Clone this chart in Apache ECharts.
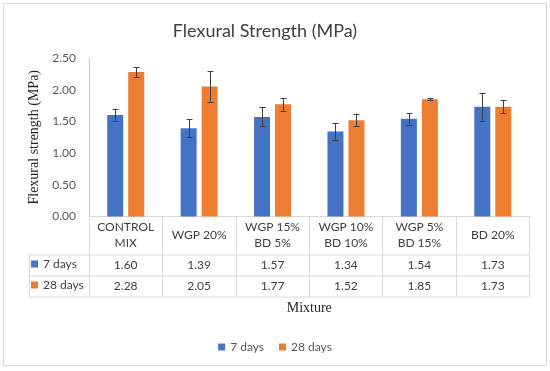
<!DOCTYPE html>
<html>
<head>
<meta charset="utf-8">
<script src="https://cdn.jsdelivr.net/npm/echarts@6/dist/echarts.min.js"></script>
<style>html,body{margin:0;padding:0;background:#fff;}#c{width:550px;height:371px;}</style>
</head>
<body>
<div id="c"></div>
<script>
const categories = ['CONTROL\nMIX', 'WGP 20%', 'WGP 15%\nBD 5%', 'WGP 10%\nBD 10%', 'WGP 5%\nBD 15%', 'BD 20%'];
const days7 = [1.60, 1.39, 1.57, 1.34, 1.54, 1.73];
const days28 = [2.28, 2.05, 1.77, 1.52, 1.85, 1.73];
const err7 = [0.10, 0.14, 0.15, 0.13, 0.09, 0.22];
const err28 = [0.08, 0.24, 0.10, 0.10, 0.02, 0.10];
const yMin = 0, yMax = 2.5, yStep = 0.5;
const seriesNames = ['7 days', '28 days'];

const FONT = 'Lato';
const BLUE = '#4472c4', ORANGE = '#ed7d31';
const GRID = {left: 89, right: 20.5, top: 58, bottom: 154.5};
const W = 550, H = 371;
const y0 = H - GRID.bottom, xL = GRID.left, xR = W - GRID.right;
const rowH = [38, 21, 21];
const tableLeft = 29;
const BAR_W = 16, BAR_GAP = 5;

function errSeries(name, vals, errs, dir) {
  return {
    type: 'custom', name: name + ' err', xAxisIndex: 0, yAxisIndex: 0, z: 5,
    encode: {x: 0, y: 1},
    data: vals.map((v, i) => [i, v, errs[i]]),
    renderItem: function (params, api) {
      const i = api.value(0), v = api.value(1), e = api.value(2);
      const c = api.coord([i, v]);
      const hi = api.coord([i, v + e]);
      const lo = api.coord([i, v - e]);
      const x = Math.round(c[0] + dir * (BAR_W + BAR_GAP) / 2) + 0.5;
      const st = {stroke: '#404040', lineWidth: 1, fill: null};
      return {type: 'group', children: [
        {type: 'line', shape: {x1: x, y1: hi[1], x2: x, y2: lo[1]}, style: st},
        {type: 'line', shape: {x1: x - 3, y1: Math.round(hi[1]) + 0.5, x2: x + 3, y2: Math.round(hi[1]) + 0.5}, style: st},
        {type: 'line', shape: {x1: x - 3, y1: Math.round(lo[1]) + 0.5, x2: x + 3, y2: Math.round(lo[1]) + 0.5}, style: st}
      ]};
    }
  };
}

const r1 = y0 + rowH[0], r2 = r1 + rowH[1], r3 = r2 + rowH[2];
const lineSt = {stroke: '#d9d9d9', lineWidth: 1};
const graphics = [
  {type: 'rect', shape: {x: 3.5, y: 3.5, width: 543, height: 362}, style: {fill: null, stroke: '#d9d9d9', lineWidth: 1}, z: -1},
  {type: 'line', shape: {x1: tableLeft, y1: r1 + 0.5, x2: xR, y2: r1 + 0.5}, style: lineSt},
  {type: 'line', shape: {x1: tableLeft, y1: r2 + 0.5, x2: xR, y2: r2 + 0.5}, style: lineSt},
  {type: 'line', shape: {x1: tableLeft, y1: r3 + 0.5, x2: xR, y2: r3 + 0.5}, style: lineSt},
  {type: 'line', shape: {x1: tableLeft + 0.5, y1: r1, x2: tableLeft + 0.5, y2: r3}, style: lineSt}
];

function valueAxis(vals, offset) {
  return {
    type: 'category', gridIndex: 0, position: 'bottom', offset: offset,
    data: vals.map(v => v.toFixed(2)),
    axisLine: {show: false}, axisTick: {show: false},
    axisLabel: {interval: 0, margin: 0, verticalAlign: 'middle', color: '#404040', fontFamily: FONT, fontSize: 12}
  };
}

const option = {
  animation: false,
  backgroundColor: '#fff',
  textStyle: {fontFamily: FONT},
  title: {
    text: 'Flexural Strength (MPa)', left: 260, top: 17, textAlign: 'center',
    textStyle: {fontFamily: FONT, fontSize: 18, fontWeight: 'normal', color: '#404040'}
  },
  legend: [
    {data: [seriesNames[0]], left: 31, top: r1 + rowH[1] / 2 - 7, padding: 0, icon: 'rect', itemWidth: 7, itemHeight: 7,
      textStyle: {fontFamily: FONT, fontSize: 12, color: '#404040'}, selectedMode: false},
    {data: [seriesNames[1]], left: 31, top: r2 + rowH[2] / 2 - 7, padding: 0, icon: 'rect', itemWidth: 7, itemHeight: 7,
      textStyle: {fontFamily: FONT, fontSize: 12, color: '#404040'}, selectedMode: false},
    {data: seriesNames, left: 'center', top: 341, padding: 0, icon: 'rect', itemWidth: 7, itemHeight: 7, itemGap: 15,
      textStyle: {fontFamily: FONT, fontSize: 12, color: '#595959'}, selectedMode: false}
  ],
  grid: GRID,
  xAxis: [
    {
      type: 'category', data: categories, gridIndex: 0, position: 'bottom',
      axisLine: {lineStyle: {color: '#d9d9d9'}},
      axisTick: {show: true, length: rowH[0] + rowH[1] + rowH[2], interval: 0, lineStyle: {color: '#d9d9d9'}},
      axisLabel: {interval: 0, margin: rowH[0] / 2, verticalAlign: 'middle', lineHeight: 16, color: '#404040', fontFamily: FONT, fontSize: 12},
      name: 'Mixture', nameLocation: 'middle', nameGap: 85,
      nameTextStyle: {fontFamily: 'Liberation Serif', fontSize: 14, color: '#262626'}
    },
    valueAxis(days7, rowH[0] + rowH[1] / 2),
    valueAxis(days28, rowH[0] + rowH[1] + rowH[2] / 2)
  ],
  yAxis: {
    type: 'value', min: yMin, max: yMax, interval: yStep,
    axisLine: {show: true, lineStyle: {color: '#b4c7e7'}},
    axisTick: {show: false}, splitLine: {show: false},
    axisLabel: {formatter: v => v.toFixed(2), color: '#595959', fontFamily: FONT, fontSize: 12, margin: 13},
    name: 'Flexural strength (MPa)', nameLocation: 'middle', nameGap: 48,
    nameTextStyle: {fontFamily: 'Liberation Serif', fontSize: 14, color: '#262626'}
  },
  graphic: graphics,
  series: [
    {name: seriesNames[0], type: 'bar', data: days7, barWidth: BAR_W, barGap: (BAR_GAP / BAR_W * 100) + '%', itemStyle: {color: BLUE}},
    {name: seriesNames[1], type: 'bar', data: days28, barWidth: BAR_W, barGap: (BAR_GAP / BAR_W * 100) + '%', itemStyle: {color: ORANGE}},
    errSeries(seriesNames[0], days7, err7, -1),
    errSeries(seriesNames[1], days28, err28, 1)
  ]
};

const chart = echarts.init(document.getElementById('c'), null, {renderer: 'canvas'});
chart.setOption(option);
</script>
</body>
</html>
